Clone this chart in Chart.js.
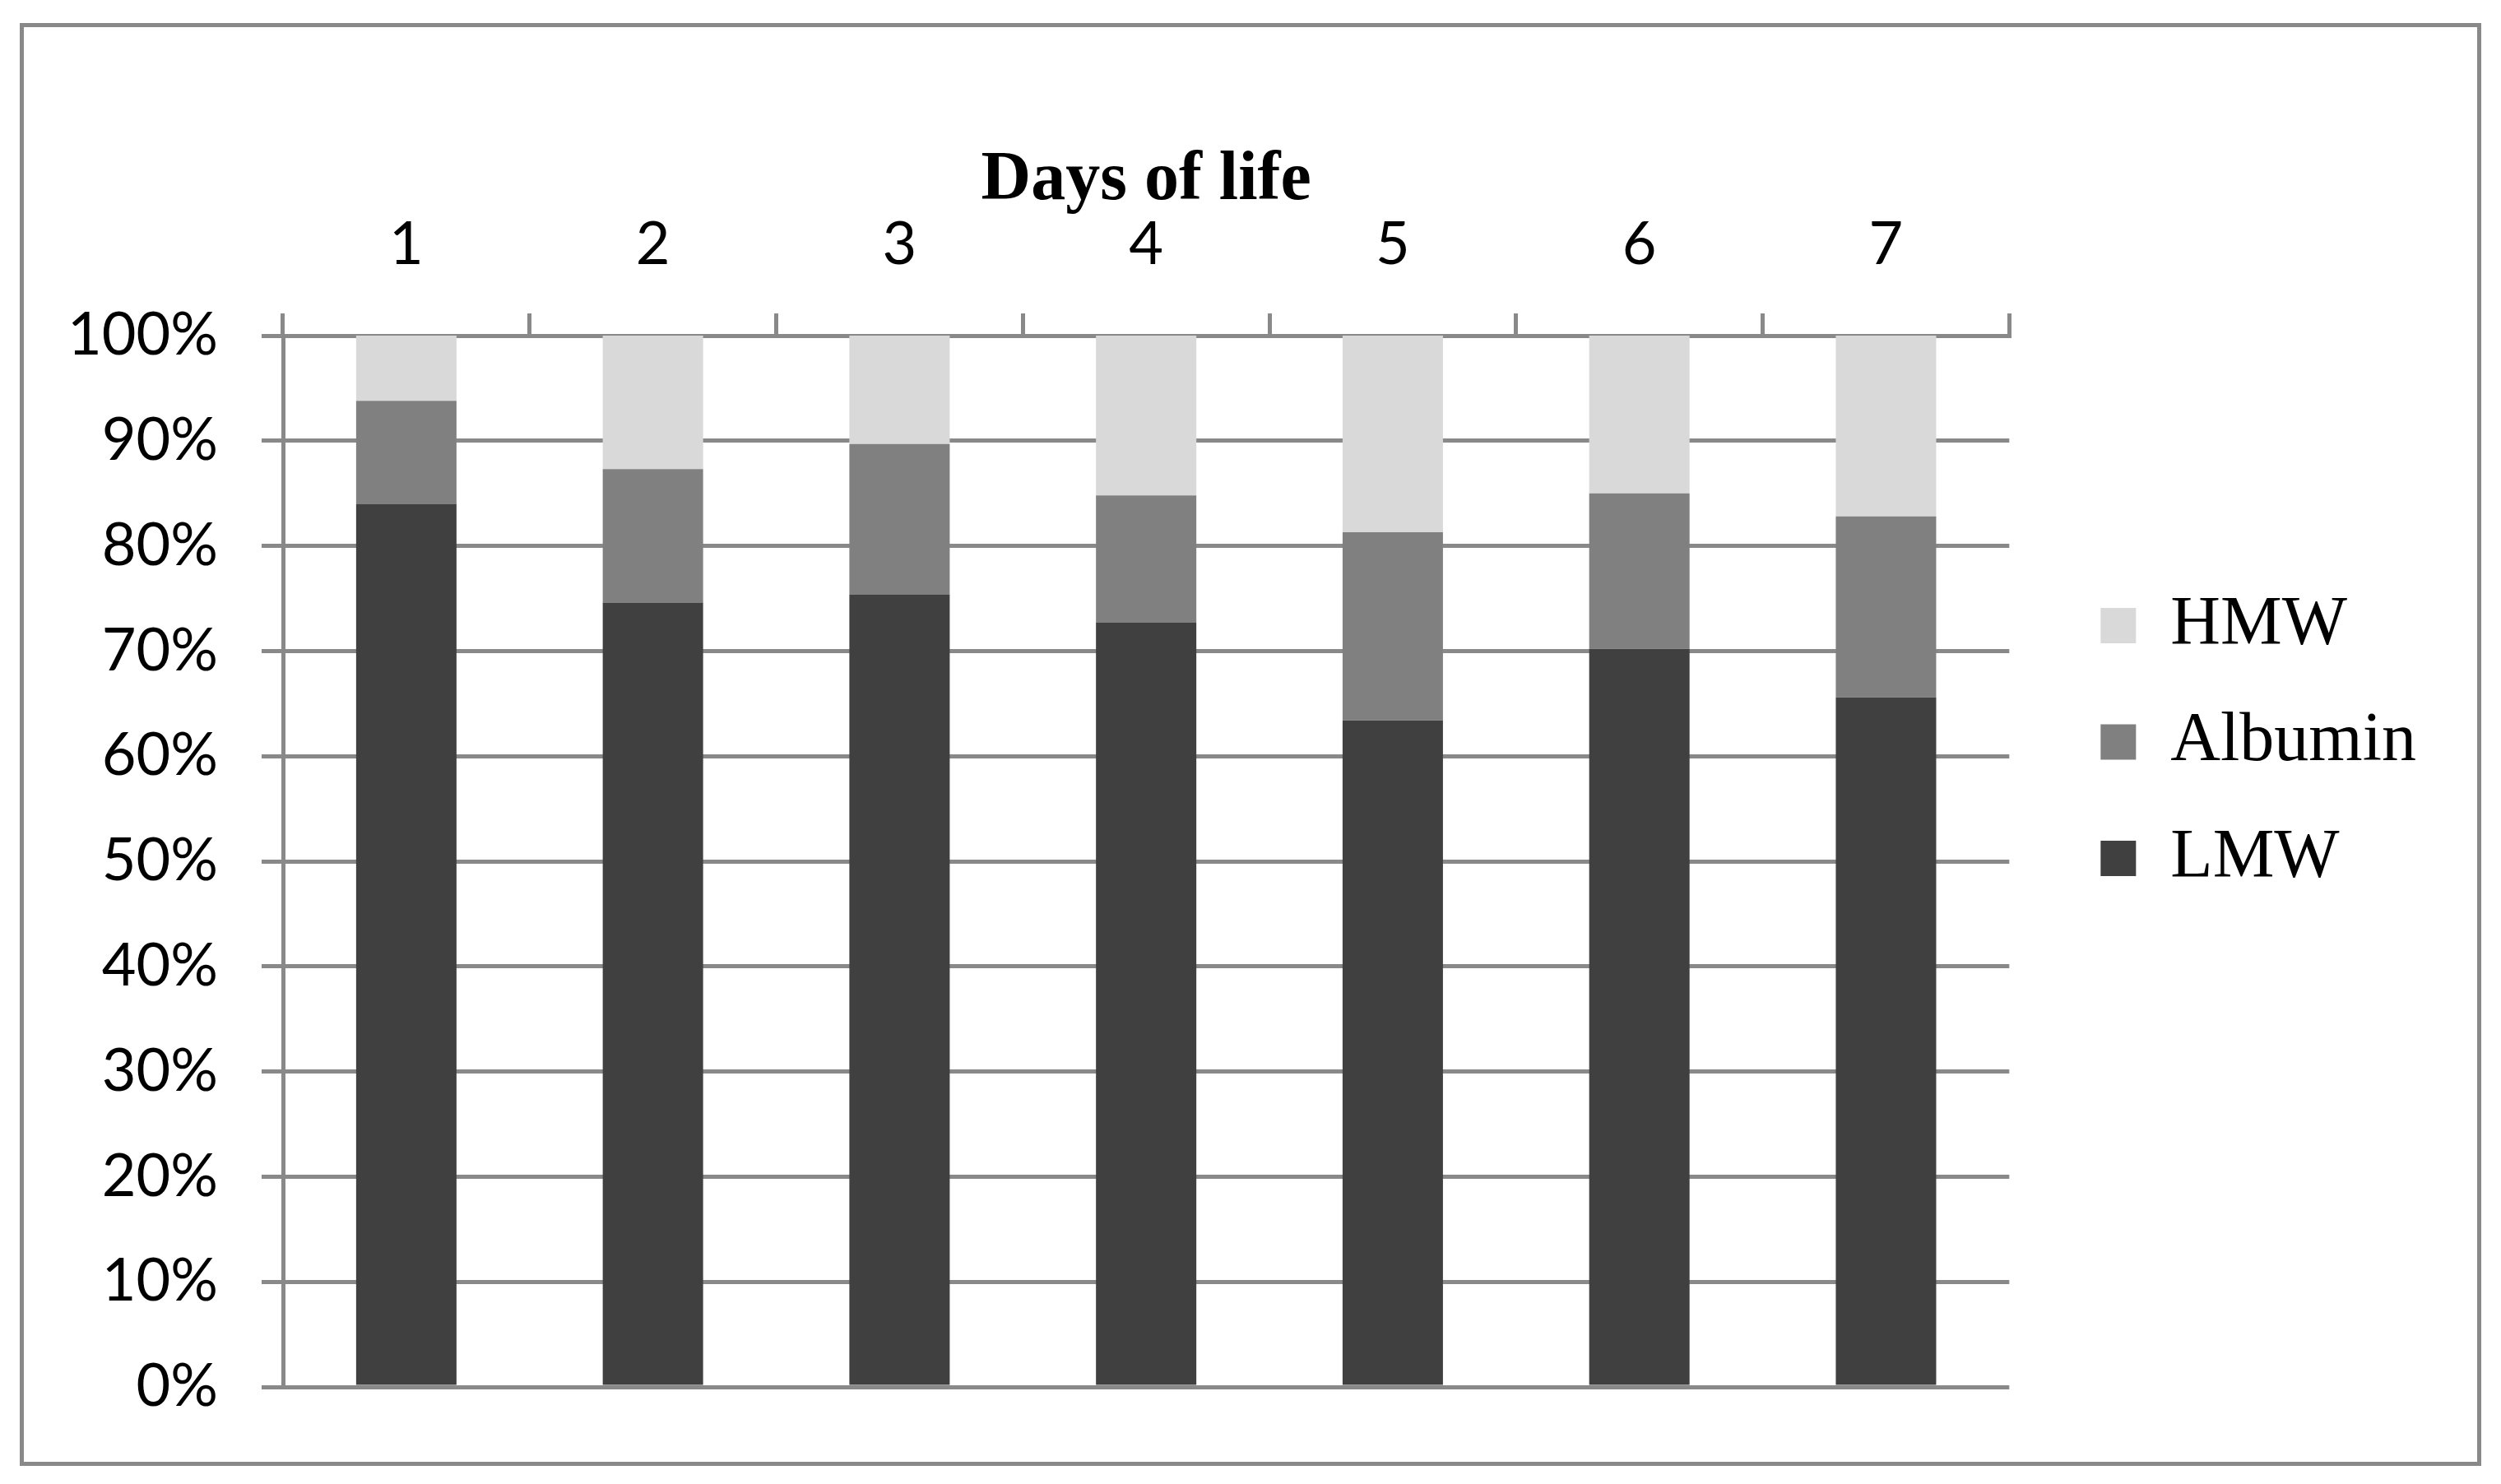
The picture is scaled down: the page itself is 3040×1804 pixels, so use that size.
<!DOCTYPE html>
<html>
<head>
<meta charset="utf-8">
<title>Days of life</title>
<script src="https://cdn.jsdelivr.net/npm/chart.js@4.4.1/dist/chart.umd.min.js"></script>
<style>
  html, body { margin: 0; padding: 0; background: #fff; }
  canvas { display: block; }
</style>
</head>
<body>
<canvas id="chart" width="3040" height="1804"></canvas>
<script>
// data (percent of total)
const days = ['1', '2', '3', '4', '5', '6', '7'];
const lmw = [84.0, 74.6, 75.4, 72.7, 63.4, 70.2, 65.6];
const albumin = [9.8, 12.7, 14.3, 12.1, 17.9, 14.8, 17.2];
const hmw = [6.2, 12.7, 10.3, 15.2, 18.7, 15.0, 17.2];
const yTicks = [0, 10, 20, 30, 40, 50, 60, 70, 80, 90, 100];

const axisGray = '#898989';

// white background + grey frame round the whole figure
const framePlugin = {
  id: 'frame',
  beforeDraw(chart) {
    const ctx = chart.ctx;
    ctx.save();
    ctx.fillStyle = '#fff';
    ctx.fillRect(0, 0, chart.width, chart.height);
    ctx.strokeStyle = axisGray;
    ctx.lineWidth = 5;
    ctx.strokeRect(26.5, 30.5, 2987, 1749);
    ctx.restore();
  }
};

const ctx = document.getElementById('chart').getContext('2d');
new Chart(ctx, {
  type: 'bar',
  data: {
    labels: days,
    datasets: [
      { label: 'LMW', data: lmw, backgroundColor: '#404040', xAxisID: 'x', yAxisID: 'y' },
      { label: 'Albumin', data: albumin, backgroundColor: '#808080', xAxisID: 'x', yAxisID: 'y' },
      { label: 'HMW', data: hmw, backgroundColor: '#d9d9d9', xAxisID: 'x', yAxisID: 'y' }
    ]
  },
  options: {
    responsive: false,
    animation: false,
    devicePixelRatio: 1,
    barPercentage: 0.407,
    categoryPercentage: 1,
    layout: {
      padding: { top: 0, left: 0, right: 93, bottom: 0 }
    },
    plugins: {
      legend: {
        position: 'right',
        reverse: true,
        labels: {
          boxWidth: 43,
          boxHeight: 43,
          padding: 57.5,
          color: '#000',
          font: { family: '"Liberation Serif", "Times New Roman", serif', size: 84 }
        }
      },
      tooltip: { enabled: false }
    },
    scales: {
      x: {
        position: 'top',
        stacked: true,
        grid: {
          drawOnChartArea: false,
          drawTicks: true,
          tickLength: 27,
          color: axisGray,
          lineWidth: 5
        },
        border: { display: true, color: axisGray, width: 5 },
        ticks: {
          color: '#000',
          padding: 40,
          font: { family: 'Lato, "Open Sans", sans-serif', size: 72 }
        },
        title: {
          display: true,
          text: 'Days of life',
          color: '#000',
          padding: { top: 170, bottom: 0 },
          font: { family: '"Liberation Serif", "Times New Roman", serif', size: 84, weight: 'bold' }
        },
        afterFit(scale) {
          scale.height = 408;
        }
      },
      // empty band under the plot
      xPad: {
        type: 'linear',
        axis: 'x',
        position: 'bottom',
        display: true,
        grid: { display: false },
        border: { display: false },
        ticks: { display: false },
        afterFit(scale) {
          scale.height = 118;
        }
      },
      y: {
        stacked: true,
        min: 0,
        max: 100,
        grid: {
          color: axisGray,
          lineWidth: 5,
          tickLength: 26
        },
        border: { display: true, color: axisGray, width: 5 },
        afterBuildTicks(scale) {
          scale.ticks = yTicks.map(v => ({ value: v }));
        },
        ticks: {
          color: '#000',
          padding: 53,
          font: { family: 'Lato, "Open Sans", sans-serif', size: 72 },
          callback: function(value) {
            return value + '%';
          }
        },
        afterFit(scale) {
          scale.width = 344;
        }
      },
      // gap between plot and legend
      yPad: {
        type: 'linear',
        axis: 'y',
        position: 'right',
        display: true,
        grid: { display: false },
        border: { display: false },
        ticks: { display: false },
        afterFit(scale) {
          scale.width = 53.5;
        }
      }
    }
  },
  plugins: [framePlugin]
});
</script>
</body>
</html>
